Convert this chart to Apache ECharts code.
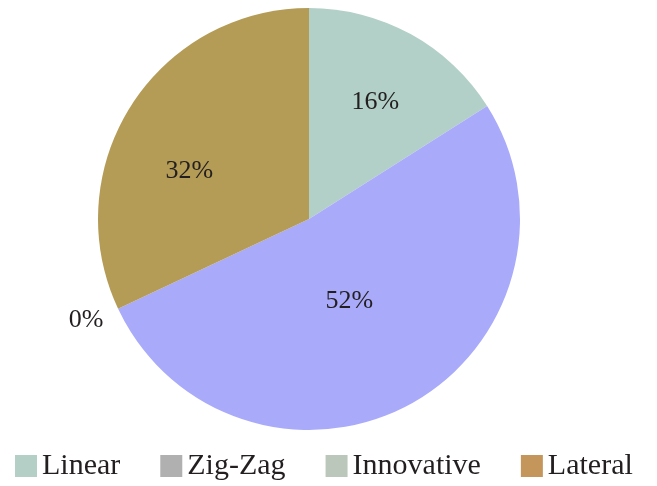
<!DOCTYPE html>
<html><head><meta charset="utf-8">
<script src="https://cdn.jsdelivr.net/npm/echarts@6/dist/echarts.min.js"></script>
<style>html,body{margin:0;padding:0;background:#fff}#c{width:657px;height:486px}</style>
</head><body><div id="c"></div>
<script>
const categories = ['Linear', 'Zig-Zag', 'Innovative', 'Lateral'];
const values = [16, 52, 0, 32];
const sliceColors = ['#b2d0c7', '#a9abfa', '#bcc7bc', '#b49b56'];
const legendColors = ['#b4cfc6', '#b0b0b0', '#bcc7bc', '#c4965c'];
const labelShift = [[14, -22], [-12, -13], [0, 10], [-28, 10]];

const chart = echarts.init(document.getElementById('c'), null, {renderer: 'canvas'});
const font = '"Liberation Serif", "DejaVu Serif", serif';
chart.setOption({
  animation: false,
  legend: {
    left: 10, top: 446,
    itemWidth: 22, itemHeight: 22, itemGap: 40,
    icon: 'rect',
    textStyle: {fontFamily: font, fontSize: 30, color: '#231f20', padding: [0, 0, 0, 0]},
    data: categories.map((c, i) => ({name: c, icon: 'rect', itemStyle: {color: legendColors[i]}}))
  },
  series: [{
    type: 'pie',
    center: [309, 219],
    radius: 211,
    startAngle: 90,
    clockwise: true,
    avoidLabelOverlap: false,
    stillShowZeroSum: true,
    label: {position: 'inside', fontFamily: font, fontSize: 26, color: '#231f20', formatter: '{c}%'},
    labelLine: {show: false},
    labelLayout: function (p) {
      const s = labelShift[p.dataIndex];
      return {dx: s[0], dy: s[1]};
    },
    emphasis: {disabled: true},
    data: categories.map((c, i) => {
      const d = {name: c, value: values[i], itemStyle: {color: sliceColors[i]}};
      if (values[i] === 0) {
        d.label = {position: 'outside', fontSize: 26};
        d.labelLine = {show: false, length: 4, length2: 6};
      }
      return d;
    })
  }]
});
</script></body></html>
